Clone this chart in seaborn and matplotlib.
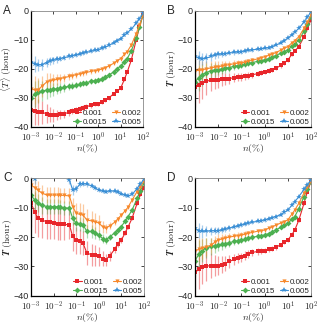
import numpy as np
import pandas as pd
import matplotlib
matplotlib.use("Agg")
import matplotlib.pyplot as plt
import seaborn as sns

# n(%) sample positions shared by all curves
n_pct = [0.001, 0.0015, 0.002, 0.003, 0.005, 0.007, 0.01, 0.015, 0.02, 0.03, 0.05, 0.07,
         0.1, 0.15, 0.2, 0.3, 0.5, 0.7, 1, 1.5, 2, 3, 5, 7, 10, 15, 20, 30, 50, 70, 100]

series_labels = ['0.001', '0.0015', '0.002', '0.005']
series_colors = ['#e8262b', '#4cb050', '#f7892c', '#3b8fd5']
series_markers = ['s', 'D', 'v', '*']

# panel A
a_red = [-34.0, -34.5, -34.8, -35.0, -35.4, -35.8, -36.0, -35.8, -35.6, -35.4, -35.0, -34.6,
         -34.2, -33.8, -33.5, -33.0, -32.5, -32.2, -32.0, -31.3, -30.7, -30.0, -28.5, -27.6,
         -26.7, -23.5, -21.0, -17.0, -10.0, -5.5, -1.4]
a_green = [-30.0, -28.7, -27.9, -27.6, -27.3, -27.1, -27.0, -26.8, -26.6, -26.3, -26.0, -25.8,
           -25.6, -25.3, -25.0, -24.7, -24.3, -24.0, -23.8, -23.3, -22.8, -22.1, -21.0, -20.0,
           -19.0, -17.6, -16.4, -13.8, -9.4, -5.6, -1.4]
a_orange = [-27.0, -27.2, -27.3, -26.0, -24.5, -24.0, -23.8, -23.6, -23.3, -23.0, -22.6, -22.3,
            -22.0, -21.7, -21.5, -21.2, -20.8, -20.6, -20.4, -20.0, -19.6, -19.0, -18.0, -17.2,
            -16.4, -15.0, -14.0, -11.8, -7.8, -4.8, -1.5]
a_blue = [-17.5, -18.3, -18.6, -18.5, -17.8, -17.3, -17.0, -16.7, -16.4, -16.1, -15.7, -15.4,
          -15.2, -14.9, -14.6, -14.3, -13.9, -13.6, -13.3, -12.9, -12.5, -11.9, -10.9, -10.2,
          -9.5, -8.4, -7.5, -6.3, -4.3, -2.7, -0.8]
a_red_err = [5.5, 5.0, 4.5, 4.0, 3.2, 2.6, 2.2, 1.8, 1.6, 1.4, 1.2, 1.1, 1.0, 0.9, 0.9, 0.8,
             0.8, 0.7, 0.7, 0.7, 0.6, 0.6, 0.6, 0.5, 0.5, 0.5, 0.5, 0.4, 0.4, 0.4, 0.3]
a_green_err = [5.0, 4.5, 4.0, 3.5, 3.0, 2.5, 2.2, 1.9, 1.7, 1.5, 1.3, 1.2, 1.1, 1.0, 0.9, 0.9,
               0.8, 0.8, 0.7, 0.7, 0.6, 0.6, 0.6, 0.5, 0.5, 0.5, 0.5, 0.4, 0.4, 0.4, 0.3]
a_orange_err = [5.0, 4.8, 4.2, 3.6, 3.0, 2.5, 2.1, 1.8, 1.6, 1.4, 1.2, 1.1, 1.0, 0.9, 0.9, 0.8,
                0.8, 0.7, 0.7, 0.6, 0.6, 0.6, 0.5, 0.5, 0.5, 0.5, 0.4, 0.4, 0.4, 0.3, 0.3]
a_blue_err = [3.0, 2.6, 2.2, 1.9, 1.6, 1.4, 1.2, 1.1, 1.0, 0.9, 0.8, 0.8, 0.7, 0.7, 0.6, 0.6,
              0.6, 0.5, 0.5, 0.5, 0.5, 0.4, 0.4, 0.4, 0.4, 0.4, 0.3, 0.3, 0.3, 0.3, 0.3]

# panel B
b_red = [-26.2, -25.5, -25.0, -24.3, -23.8, -23.8, -23.8, -23.6, -23.5, -23.3, -23.0, -22.8,
         -22.7, -22.5, -22.3, -22.0, -21.6, -21.3, -21.0, -20.6, -20.3, -19.8, -18.8, -17.9,
         -16.9, -15.0, -13.8, -12.3, -8.9, -6.0, -3.1]
b_green = [-24.4, -23.0, -22.0, -21.3, -20.6, -20.4, -20.2, -20.0, -19.8, -19.5, -19.1, -18.9,
           -18.7, -18.4, -18.1, -17.8, -17.4, -17.1, -16.9, -16.4, -16.0, -15.4, -14.6, -14.0,
           -13.5, -12.2, -11.4, -10.0, -7.0, -4.6, -2.0]
b_orange = [-20.6, -20.5, -20.3, -20.0, -19.6, -19.4, -19.2, -19.0, -18.8, -18.5, -18.2, -18.0,
            -17.9, -17.6, -17.3, -17.0, -16.5, -16.1, -15.8, -15.3, -14.9, -14.4, -13.5, -12.9,
            -12.3, -11.0, -10.2, -8.9, -6.0, -3.8, -1.4]
b_blue = [-15.6, -16.2, -16.5, -16.3, -15.7, -15.3, -15.0, -14.8, -14.7, -14.5, -14.3, -14.1,
          -14.0, -13.8, -13.6, -13.4, -13.2, -13.0, -12.9, -12.6, -12.3, -11.8, -11.0, -10.2,
          -9.4, -8.2, -7.3, -6.0, -3.8, -2.2, -0.2]
b_red_err = [7.0, 6.2, 5.5, 4.6, 3.8, 3.2, 2.8, 2.4, 2.1, 1.8, 1.6, 1.4, 1.3, 1.2, 1.1, 1.0,
             0.9, 0.9, 0.8, 0.8, 0.7, 0.7, 0.7, 0.6, 0.6, 0.6, 0.5, 0.5, 0.5, 0.4, 0.4]
b_green_err = [5.0, 4.5, 3.8, 3.2, 2.7, 2.3, 2.0, 1.8, 1.6, 1.4, 1.2, 1.1, 1.0, 0.9, 0.9, 0.8,
               0.8, 0.7, 0.7, 0.6, 0.6, 0.6, 0.5, 0.5, 0.5, 0.5, 0.4, 0.4, 0.4, 0.3, 0.3]
b_orange_err = [4.0, 3.6, 3.2, 2.8, 2.4, 2.1, 1.9, 1.7, 1.5, 1.3, 1.2, 1.1, 1.0, 0.9, 0.8, 0.8,
                0.7, 0.7, 0.6, 0.6, 0.6, 0.5, 0.5, 0.5, 0.5, 0.4, 0.4, 0.4, 0.3, 0.3, 0.3]
b_blue_err = [3.0, 2.5, 2.1, 1.8, 1.5, 1.3, 1.1, 1.0, 0.9, 0.8, 0.8, 0.7, 0.7, 0.6, 0.6, 0.6,
              0.5, 0.5, 0.5, 0.5, 0.4, 0.4, 0.4, 0.4, 0.4, 0.3, 0.3, 0.3, 0.3, 0.3, 0.3]

# panel C
c_red = [-8.5, -11.5, -13.6, -14.3, -14.7, -15.0, -15.3, -15.5, -15.6, -15.7, -15.8, -19.8,
         -21.0, -21.5, -22.0, -25.5, -26.0, -26.2, -26.5, -27.3, -27.7, -26.5, -24.2, -22.5,
         -21.0, -18.5, -16.5, -13.6, -8.5, -5.5, -3.4]
c_green = [-5.7, -7.5, -8.5, -9.2, -9.6, -9.6, -9.6, -9.7, -9.8, -10.0, -10.2, -13.6,
           -15.3, -15.6, -15.8, -18.1, -18.1, -18.6, -19.3, -20.5, -21.0, -20.0, -18.6, -17.5,
           -16.4, -14.5, -13.0, -10.8, -6.8, -4.2, -1.7]
c_orange = [-2.3, -3.2, -4.0, -5.0, -5.7, -5.7, -5.7, -5.7, -5.8, -5.8, -6.0, -9.6,
            -11.9, -12.3, -12.5, -14.2, -14.5, -14.8, -15.2, -16.5, -17.0, -16.2, -15.0, -13.8,
            -12.5, -11.0, -9.8, -7.4, -4.5, -2.8, -1.1]
c_blue = [1.0, -0.3, 1.5, 2.0, 2.0, 2.0, 2.0, 2.0, 2.0, 2.0, -0.5, -4.0,
          -3.5, -2.0, -1.8, -2.0, -2.6, -3.3, -4.0, -4.4, -4.5, -4.3, -4.4, -4.8,
          -5.3, -5.8, -6.0, -5.5, -3.5, -2.0, -0.3]
c_red_err = [8.0, 7.0, 6.5, 6.0, 5.8, 5.6, 5.5, 5.4, 5.3, 5.2, 5.0, 4.8, 4.6, 4.4, 4.2, 4.0,
             3.8, 3.5, 3.2, 2.6, 2.0, 1.6, 1.2, 1.0, 0.9, 0.8, 0.7, 0.6, 0.5, 0.5, 0.4]
c_green_err = [4.0, 3.5, 3.0, 2.8, 2.6, 2.5, 2.5, 2.5, 2.4, 2.4, 2.4, 2.4, 2.5, 2.5, 2.4, 2.3,
               2.2, 2.0, 1.8, 1.5, 1.3, 1.0, 0.8, 0.7, 0.6, 0.6, 0.5, 0.5, 0.4, 0.4, 0.3]
c_orange_err = [3.5, 3.2, 3.0, 2.8, 2.6, 2.6, 2.6, 2.6, 2.6, 2.6, 2.8, 3.0, 3.6, 3.8, 3.8, 3.6,
                3.4, 3.0, 2.6, 2.0, 1.6, 1.2, 0.9, 0.8, 0.7, 0.6, 0.5, 0.5, 0.4, 0.4, 0.3]
c_blue_err = [1.5, 1.5, 1.4, 1.3, 1.2, 1.2, 1.2, 1.2, 1.2, 1.2, 1.4, 1.6, 1.2, 1.0, 0.9, 0.8,
              0.8, 0.7, 0.7, 0.6, 0.6, 0.6, 0.5, 0.5, 0.5, 0.5, 0.4, 0.4, 0.4, 0.3, 0.3]

# panel D
d_red = [-32.0, -31.0, -30.3, -29.9, -29.7, -29.7, -29.7, -29.4, -29.0, -28.3, -27.6, -27.2,
         -26.9, -26.3, -25.7, -25.2, -24.9, -24.7, -24.6, -24.2, -23.9, -23.5, -22.6, -21.8,
         -21.0, -19.2, -17.6, -14.2, -8.5, -4.5, -1.1]
d_green = [-28.0, -25.8, -24.6, -23.8, -23.2, -23.0, -22.8, -22.5, -22.2, -21.9, -21.5, -21.2,
           -21.0, -20.7, -20.4, -20.1, -19.7, -19.5, -19.3, -18.8, -18.3, -17.6, -16.7, -16.0,
           -15.3, -14.0, -13.0, -10.3, -6.2, -3.6, -1.1]
d_orange = [-24.6, -24.2, -23.8, -23.3, -22.8, -21.8, -21.0, -20.6, -20.3, -20.0, -19.7, -19.5,
            -19.3, -19.0, -18.7, -18.4, -18.0, -17.8, -17.6, -17.0, -16.6, -16.0, -15.2, -14.7,
            -14.2, -12.2, -10.8, -8.5, -5.0, -3.0, -1.1]
d_blue = [-17.0, -17.8, -18.1, -18.0, -17.9, -17.8, -17.8, -17.6, -17.4, -17.0, -16.5, -16.2,
          -15.9, -15.6, -15.3, -15.0, -14.6, -14.4, -14.2, -13.8, -13.4, -13.0, -12.4, -11.6,
          -10.8, -9.2, -8.0, -6.2, -3.8, -2.2, -0.6]
d_red_err = [8.0, 6.8, 5.8, 5.0, 4.2, 3.6, 3.2, 2.8, 2.5, 2.2, 1.9, 1.7, 1.5, 1.4, 1.3, 1.2,
             1.1, 1.0, 0.9, 0.9, 0.8, 0.8, 0.7, 0.7, 0.6, 0.6, 0.5, 0.5, 0.5, 0.4, 0.4]
d_green_err = [5.5, 4.8, 4.0, 3.4, 2.8, 2.4, 2.1, 1.8, 1.6, 1.4, 1.2, 1.1, 1.0, 0.9, 0.9, 0.8,
               0.8, 0.7, 0.7, 0.6, 0.6, 0.6, 0.5, 0.5, 0.5, 0.5, 0.4, 0.4, 0.4, 0.3, 0.3]
d_orange_err = [4.5, 4.0, 3.5, 3.0, 2.6, 2.2, 1.9, 1.7, 1.5, 1.3, 1.2, 1.1, 1.0, 0.9, 0.8, 0.8,
                0.7, 0.7, 0.6, 0.6, 0.6, 0.5, 0.5, 0.5, 0.5, 0.4, 0.4, 0.4, 0.3, 0.3, 0.3]
d_blue_err = [3.0, 2.5, 2.1, 1.8, 1.5, 1.3, 1.1, 1.0, 0.9, 0.8, 0.8, 0.7, 0.7, 0.6, 0.6, 0.6,
              0.5, 0.5, 0.5, 0.5, 0.4, 0.4, 0.4, 0.4, 0.4, 0.3, 0.3, 0.3, 0.3, 0.3, 0.3]

x_ticks = [1e-3, 1e-2, 1e-1, 1e0, 1e1, 1e2]
x_tick_labels = [r'$\mathsf{10^{-3}}$', r'$\mathsf{10^{-2}}$', r'$\mathsf{10^{-1}}$',
                 r'$\mathsf{10^{0}}$', r'$\mathsf{10^{1}}$', r'$\mathsf{10^{2}}$']
y_ticks = [-40, -30, -20, -10, 0]

sns.set_style('ticks')
plt.rcParams['font.family'] = ['Liberation Sans', 'DejaVu Sans']
plt.rcParams['mathtext.fontset'] = 'cm'


def draw_panel(ax, curves, errs, ylabel, letter):
    for vals, err, lab, col, mk in zip(curves, errs, series_labels, series_colors, series_markers):
        ax.errorbar(n_pct, vals, yerr=err, fmt='none', ecolor=col, alpha=0.45,
                    elinewidth=0.9, capsize=0, zorder=1)
        df = pd.DataFrame({'n': n_pct, 'T': vals})
        sns.lineplot(data=df, x='n', y='T', ax=ax, color=col, marker=mk,
                     markersize=3.0 if mk != '*' else 4.0, markeredgewidth=0,
                     linewidth=0.8, label=lab, legend=False, zorder=2)
    ax.set_xscale('log')
    ax.set_xlim(1e-3, 1e2)
    ax.set_ylim(-40, 0)
    ax.set_xticks(x_ticks)
    ax.set_xticklabels(x_tick_labels)
    ax.set_yticks(y_ticks)
    ax.set_xlabel(r'$n(\%)$', fontsize=7, labelpad=-1)
    ax.set_ylabel(ylabel, fontsize=7, labelpad=-0.5)
    ax.tick_params(which='both', direction='in', top=True, right=True, labelsize=6.5, pad=1.5)
    ax.tick_params(axis='x', which='both', pad=2.5)
    ax.tick_params(which='major', length=2.5, width=0.6)
    ax.tick_params(which='minor', length=1.5, width=0.5)
    for side in ['left', 'bottom']:
        ax.spines[side].set_linewidth(0.9)
        ax.spines[side].set_color('black')
    for side in ['top', 'right']:
        ax.spines[side].set_linewidth(0.6)
        ax.spines[side].set_color('#888888')
    ax.legend(loc='lower right', ncol=2, fontsize=5.8, frameon=False, handlelength=1.0,
              handletextpad=0.25, columnspacing=0.6, labelspacing=0.15, borderaxespad=0.05,
              borderpad=0.1)
    pos = ax.get_position()
    fig.text(pos.x0 - 0.088, pos.y1 + 0.02, letter, fontsize=8.5, va='top', ha='left')


fig = plt.figure(figsize=(3.18, 3.23), dpi=100)
ax_a = fig.add_axes([0.0975, 0.607, 0.352, 0.359])
ax_b = fig.add_axes([0.613, 0.607, 0.365, 0.359])
ax_c = fig.add_axes([0.0975, 0.084, 0.355, 0.364])
ax_d = fig.add_axes([0.613, 0.084, 0.365, 0.364])

draw_panel(ax_a, [a_red, a_green, a_orange, a_blue],
           [a_red_err, a_green_err, a_orange_err, a_blue_err],
           r'$\langle T\rangle\ (\mathrm{hour})$', 'A')
draw_panel(ax_b, [b_red, b_green, b_orange, b_blue],
           [b_red_err, b_green_err, b_orange_err, b_blue_err],
           r'$\boldsymbol{T}\ (\mathrm{hour})$', 'B')
draw_panel(ax_c, [c_red, c_green, c_orange, c_blue],
           [c_red_err, c_green_err, c_orange_err, c_blue_err],
           r'$\boldsymbol{T}\ (\mathrm{hour})$', 'C')
draw_panel(ax_d, [d_red, d_green, d_orange, d_blue],
           [d_red_err, d_green_err, d_orange_err, d_blue_err],
           r'$\boldsymbol{T}\ (\mathrm{hour})$', 'D')

fig.savefig('out.png', dpi=100)
